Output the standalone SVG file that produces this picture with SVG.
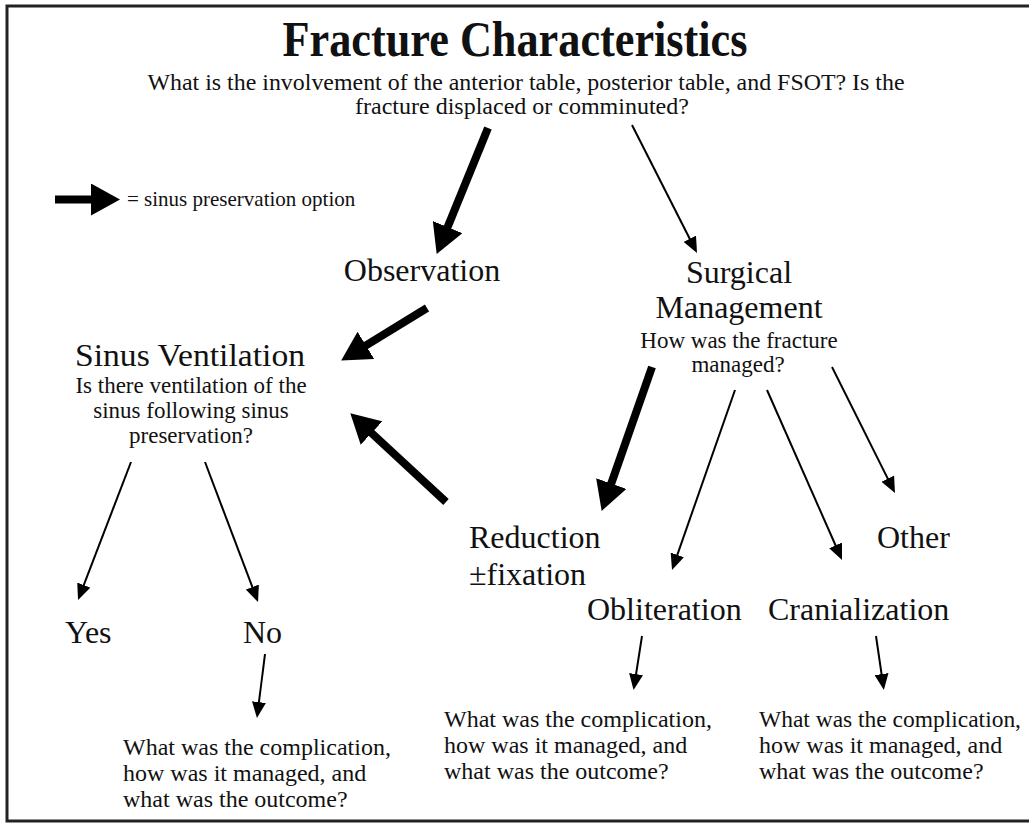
<svg xmlns="http://www.w3.org/2000/svg" width="1029" height="824" viewBox="0 0 1029 824">
<style>
text{font-family:"Liberation Serif","Times New Roman",serif;fill:#111}
.title{font-size:50px;font-weight:bold}
.sub{font-size:24px}
.lbl{font-size:32px}
.desc{font-size:23px}
.q{font-size:24px}
.leg{font-size:21px}
.thick{stroke:#000;stroke-width:8;fill:none}
.thin{stroke:#000;stroke-width:2;fill:none}
</style>
<defs>
<marker id="hThick" markerUnits="userSpaceOnUse" markerWidth="30" markerHeight="32" refX="8" refY="16" orient="auto">
<path d="M0,0 L29,16 L0,32 Z" fill="#000"/>
</marker>
<marker id="hThin" markerUnits="userSpaceOnUse" markerWidth="16" markerHeight="14" refX="10" refY="7" orient="auto">
<path d="M0,0 L16,7 L0,14 Z" fill="#000"/>
</marker>
</defs>
<rect x="7" y="6" width="1030" height="815" fill="#fff" stroke="#222" stroke-width="3"/>

<g id="title">
<text class="title" x="515" y="56" text-anchor="middle" textLength="465" lengthAdjust="spacingAndGlyphs">Fracture Characteristics</text>
<text class="sub" x="526" y="90" text-anchor="middle" textLength="757" lengthAdjust="spacingAndGlyphs">What is the involvement of the anterior table, posterior table, and FSOT? Is the</text>
<text class="sub" x="522" y="114" text-anchor="middle">fracture displaced or comminuted?</text>
</g>

<g id="legend">
<line class="thick" x1="55" y1="199.5" x2="99" y2="199.5" marker-end="url(#hThick)"/>
<text class="leg" x="127" y="206">= sinus preservation option</text>
</g>

<g id="observation"><text class="lbl" x="422" y="281" text-anchor="middle">Observation</text></g>

<g id="surgical">
<text class="lbl" x="739" y="283" text-anchor="middle">Surgical</text>
<text class="lbl" x="739" y="318" text-anchor="middle">Management</text>
<text class="desc" x="739" y="348" text-anchor="middle">How was the fracture</text>
<text class="desc" x="738" y="372" text-anchor="middle">managed?</text>
</g>

<g id="sinus-ventilation">
<text class="lbl" x="190" y="366" text-anchor="middle" textLength="230" lengthAdjust="spacingAndGlyphs">Sinus Ventilation</text>
<text class="desc" x="191" y="393" text-anchor="middle">Is there ventilation of the</text>
<text class="desc" x="191" y="418" text-anchor="middle">sinus following sinus</text>
<text class="desc" x="191" y="443" text-anchor="middle">preservation?</text>
</g>

<g id="yes"><text class="lbl" x="65" y="643">Yes</text></g>
<g id="no"><text class="lbl" x="243" y="643">No</text></g>

<g id="reduction">
<text class="lbl" x="469" y="548">Reduction</text>
<text class="lbl" x="469" y="585">±fixation</text>
</g>

<g id="other"><text class="lbl" x="877" y="548">Other</text></g>
<g id="obliteration"><text class="lbl" x="587" y="620">Obliteration</text></g>
<g id="cranialization"><text class="lbl" x="768" y="620">Cranialization</text></g>

<g id="q-no">
<text class="q" x="123" y="755">What was the complication,</text>
<text class="q" x="123" y="781">how was it managed, and</text>
<text class="q" x="123" y="807">what was the outcome?</text>
</g>
<g id="q-obliteration">
<text class="q" x="444" y="727">What was the complication,</text>
<text class="q" x="444" y="753">how was it managed, and</text>
<text class="q" x="444" y="779">what was the outcome?</text>
</g>
<g id="q-cranialization">
<text class="q" x="759" y="727" textLength="262" lengthAdjust="spacingAndGlyphs">What was the complication,</text>
<text class="q" x="759" y="753">how was it managed, and</text>
<text class="q" x="759" y="779">what was the outcome?</text>
</g>

<g id="connectors">
<line class="thick" x1="488" y1="128" x2="444.6" y2="234.5" marker-end="url(#hThick)"/>
<line class="thick" x1="427" y1="308" x2="359.1" y2="349.6" marker-end="url(#hThick)"/>
<line class="thick" x1="446" y1="502" x2="365.7" y2="427.6" marker-end="url(#hThick)"/>
<line class="thick" x1="652" y1="367" x2="608.6" y2="491.1" marker-end="url(#hThick)"/>
<line class="thin" x1="632" y1="125" x2="694.3" y2="247.7" marker-end="url(#hThin)"/>
<line class="thin" x1="735" y1="390" x2="674" y2="564.3" marker-end="url(#hThin)"/>
<line class="thin" x1="767" y1="390" x2="839.6" y2="554.5" marker-end="url(#hThin)"/>
<line class="thin" x1="832" y1="367" x2="892.3" y2="487.6" marker-end="url(#hThin)"/>
<line class="thin" x1="131" y1="462" x2="80.2" y2="594.4" marker-end="url(#hThin)"/>
<line class="thin" x1="205" y1="462" x2="255.9" y2="596.4" marker-end="url(#hThin)"/>
<line class="thin" x1="265" y1="654" x2="257.7" y2="712" marker-end="url(#hThin)"/>
<line class="thin" x1="642" y1="636" x2="634.5" y2="684" marker-end="url(#hThin)"/>
<line class="thin" x1="876" y1="636" x2="883" y2="684" marker-end="url(#hThin)"/>
</g>
</svg>
